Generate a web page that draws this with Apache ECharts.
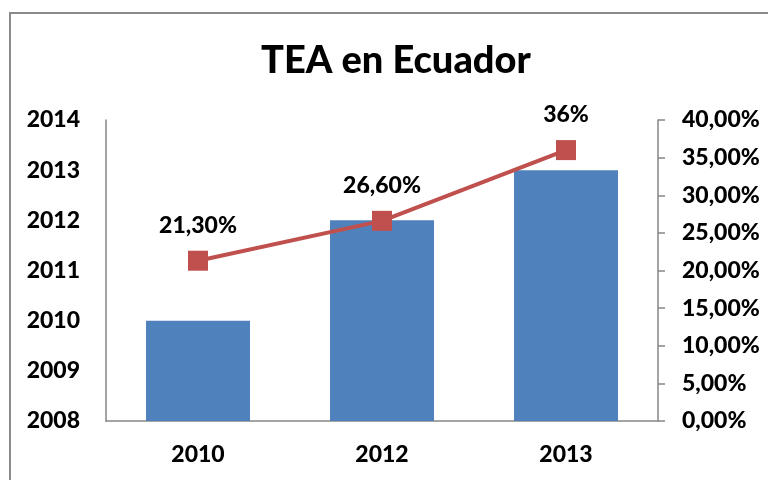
<!DOCTYPE html>
<html><head><meta charset="utf-8">
<script src="https://cdn.jsdelivr.net/npm/echarts@6/dist/echarts.min.js"></script>
<style>html,body{margin:0;padding:0;background:#fff}#c{width:768px;height:480px}</style>
</head><body><div id="c"></div>
<script>
const categories = ['2010', '2012', '2013'];
const barValues = [2010, 2012, 2013];
const teaValues = [21.3, 26.6, 36];
const teaLabels = ['21,30%', '26,60%', '36%'];
const FONT = 'Lato';
const chart = echarts.init(document.getElementById('c'));
chart.setOption({
  animation: false,
  backgroundColor: '#fff',
  graphic: [{type: 'rect', shape: {x: 10, y: 13, width: 800, height: 520}, style: {fill: 'none', stroke: '#8a8a8a', lineWidth: 2}}],
  title: {text: 'TEA en Ecuador', left: 256, top: 37,
    textStyle: {fontFamily: FONT, fontWeight: 900, fontSize: 38, color: '#000'}},
  grid: {left: 106, right: 110, top: 120, bottom: 59},
  xAxis: {type: 'category', data: categories,
    axisLine: {lineStyle: {color: '#868686', width: 1.5}}, axisTick: {show: false},
    axisLabel: {margin: 22, fontFamily: FONT, fontWeight: 900, fontSize: 23, color: '#000'}},
  yAxis: [
    {type: 'value', min: 2008, max: 2014, interval: 1, splitLine: {show: false},
      axisLine: {show: true, lineStyle: {color: '#868686', width: 1.5}}, axisTick: {show: false},
      axisLabel: {margin: 26, fontFamily: FONT, fontWeight: 900, fontSize: 23, color: '#000', formatter: v => String(v)}},
    {type: 'value', min: 0, max: 40, interval: 5, position: 'right', splitLine: {show: false},
      axisLine: {show: true, lineStyle: {color: '#868686', width: 1.5}},
      axisTick: {show: true, inside: false, length: 7, lineStyle: {color: '#868686', width: 1.5}},
      axisLabel: {margin: 24, fontFamily: FONT, fontWeight: 900, fontSize: 23, color: '#000',
        formatter: v => v.toFixed(2).replace('.', ',') + '%'}}
  ],
  series: [
    {type: 'bar', data: barValues, yAxisIndex: 0, barWidth: '56.5%', clip: true,
      itemStyle: {color: '#4F81BD'}},
    {type: 'line', data: teaValues, yAxisIndex: 1, symbol: 'rect', symbolSize: 20,
      lineStyle: {color: '#C0504D', width: 4}, itemStyle: {color: '#C0504D'},
      label: {show: true, position: 'top', distance: 14, fontFamily: FONT, fontWeight: 900, fontSize: 23, color: '#000',
        formatter: p => teaLabels[p.dataIndex]}}
  ]
});
</script></body></html>
